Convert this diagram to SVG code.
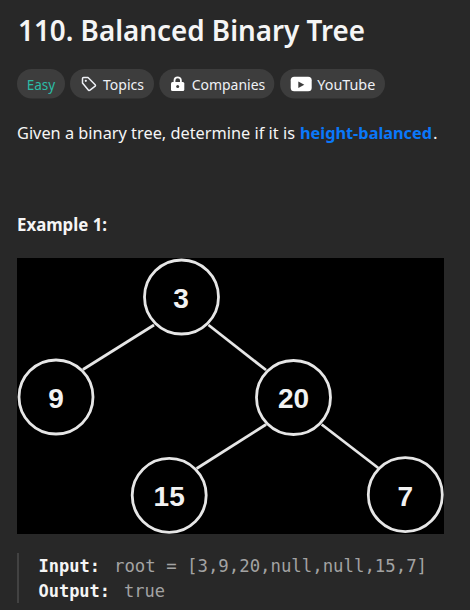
<svg xmlns="http://www.w3.org/2000/svg" width="470" height="610" viewBox="0 0 470 610">
<style>
text{font-family:"Noto Sans","Open Sans","Liberation Sans",sans-serif}
.pill{fill:#3d3d3d}
.tag{font-size:15px;fill:#eff1f6}
.num{font-family:"Liberation Sans",Arial,sans-serif;font-size:28px;font-weight:700;fill:#f2f2f2;text-anchor:middle}
.node{fill:#000;stroke:#e6e6e6;stroke-width:2.800}
.edge{stroke:#e6e6e6;stroke-width:2.800;fill:none}
.mono{font-family:"DejaVu Sans Mono","Liberation Mono",monospace;font-size:17px}
</style>
<rect width="470" height="610" fill="#282828"/>
<text x="18" y="41" font-size="28.500" font-weight="600" fill="#f5f5f5" textLength="347" lengthAdjust="spacingAndGlyphs">110. Balanced Binary Tree</text>
<g id="tag-easy"><rect class="pill" x="17" y="69" width="48" height="29.500" rx="14.750"/><text x="26.700" y="90" font-size="15" fill="#2cbba6" textLength="28.500" lengthAdjust="spacingAndGlyphs">Easy</text></g>
<g id="tag-topics"><rect class="pill" x="70" y="69" width="84" height="29.500" rx="14.750"/>
<path d="M83.500 77.500 H88 L95.200 84.700 Q95.800 85.500 95.200 86.200 L90 90.200 Q89.200 90.800 88.500 90.200 L82.500 83 V78.500 Q82.500 77.500 83.500 77.500 Z" fill="none" stroke="#eff1f6" stroke-width="1.500" stroke-linejoin="round"/><circle cx="85.800" cy="80.800" r="1.100" fill="#eff1f6"/>
<text class="tag" x="103" y="90" textLength="41" lengthAdjust="spacingAndGlyphs">Topics</text></g>
<g id="tag-companies"><rect class="pill" x="159.300" y="69" width="115" height="29.500" rx="14.750"/>
<path d="M174.500 83 v-2.500 a3.200 3.200 0 0 1 6.400 0 v2.500" fill="none" stroke="#fff" stroke-width="1.800"/><rect x="171" y="82" width="13.300" height="9" rx="1.500" fill="#fff"/><circle cx="177.700" cy="86.500" r="1.500" fill="#3d3d3d"/>
<text class="tag" x="191.700" y="90" textLength="73.500" lengthAdjust="spacingAndGlyphs">Companies</text></g>
<g id="tag-youtube"><rect class="pill" x="280" y="69" width="105" height="29.500" rx="14.750"/>
<rect x="290.700" y="76.800" width="21" height="14.400" rx="3.500" fill="#fff"/><path d="M298.300 81.500 L304.300 84.700 L298.300 87.900 Z" fill="#3d3d3d"/>
<text class="tag" x="317.300" y="90" textLength="58" lengthAdjust="spacingAndGlyphs">YouTube</text></g>
<text x="17" y="139" font-size="17" fill="#f5f5f5" textLength="278" lengthAdjust="spacingAndGlyphs">Given a binary tree, determine if it is</text>
<text x="300" y="139" font-size="16" font-weight="700" fill="#0a78fa" textLength="132" lengthAdjust="spacingAndGlyphs">height-balanced</text>
<text x="433" y="139" font-size="17" fill="#f5f5f5">.</text>
<text x="17" y="231" font-size="17" font-weight="700" fill="#f5f5f5" textLength="90" lengthAdjust="spacingAndGlyphs">Example 1:</text>
<rect x="17" y="258" width="427" height="276" fill="#000"/>
<g id="connectors">
<line class="edge" x1="154" y1="325" x2="83" y2="369.500"/>
<line class="edge" x1="208.500" y1="325" x2="266" y2="370"/>
<line class="edge" x1="266" y1="424.500" x2="196.700" y2="468.500"/>
<line class="edge" x1="321.700" y1="424.500" x2="378.300" y2="468"/>
</g>
<g id="node-3"><circle class="node" cx="181.500" cy="297" r="37"/><text class="num" x="181" y="307.500">3</text></g>
<g id="node-9"><circle class="node" cx="56" cy="397" r="37"/><text class="num" x="56" y="407.500">9</text></g>
<g id="node-20"><circle class="node" cx="293.500" cy="397.500" r="37"/><text class="num" x="293.500" y="407.500">20</text></g>
<g id="node-15"><circle class="node" cx="169.200" cy="495.300" r="37"/><text class="num" x="169.200" y="505.500">15</text></g>
<g id="node-7"><circle class="node" cx="405.300" cy="494.700" r="37"/><text class="num" x="405.300" y="505.500">7</text></g>
<rect x="17" y="553" width="2" height="50" fill="#424242"/>
<text class="mono" x="38.500" y="572" font-weight="700" fill="#f5f5f5" textLength="61.500" lengthAdjust="spacingAndGlyphs">Input:</text>
<text class="mono" x="114" y="572" fill="#a3a3a3" textLength="313" lengthAdjust="spacingAndGlyphs">root = [3,9,20,null,null,15,7]</text>
<text class="mono" x="38.500" y="597" font-weight="700" fill="#f5f5f5" textLength="71.500" lengthAdjust="spacingAndGlyphs">Output:</text>
<text class="mono" x="124" y="597" fill="#a3a3a3" textLength="41" lengthAdjust="spacingAndGlyphs">true</text>
</svg>
